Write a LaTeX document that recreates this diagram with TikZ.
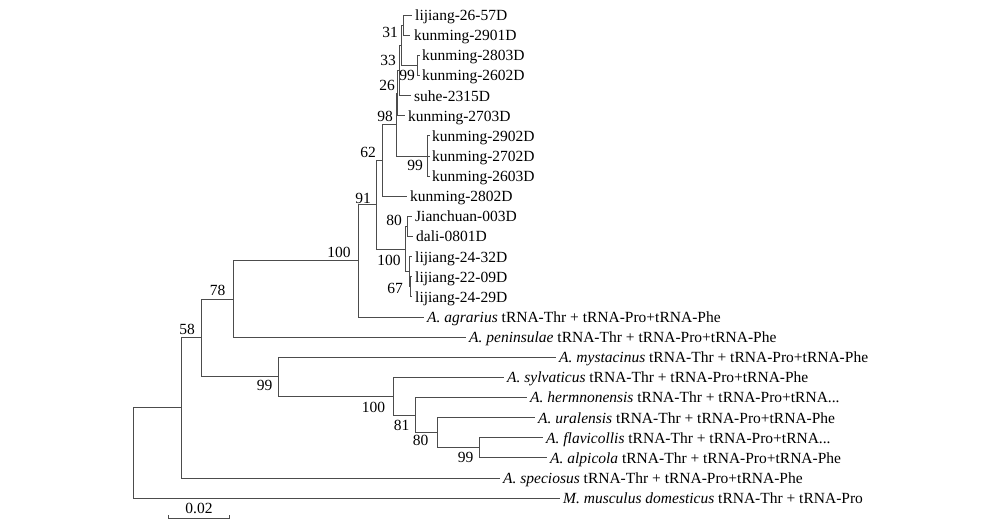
\documentclass[tikz,border=0pt]{standalone}
\usepackage{fontspec}
\setmainfont{Liberation Serif}
\begin{document}
\begin{tikzpicture}[x=1pt,y=-1pt,
  br/.style={draw=black!70, line width=0.8pt},
  tip/.style={anchor=base west, inner sep=0pt, font=\fontsize{15.5}{18}\selectfont},
  bs/.style={anchor=center, inner sep=0pt, font=\fontsize{15.5}{18}\selectfont}]
\useasboundingbox (0,0) rectangle (1004,531);
\fill[white] (0,0) rectangle (1004,531);
% tip line ends
\coordinate (e0) at (412,15);
\coordinate (e1) at (410,35.1);
\coordinate (e2) at (420,55.3);
\coordinate (e3) at (420,75.4);
\coordinate (e4) at (411,95.5);
\coordinate (e5) at (405,115.6);
\coordinate (e6) at (430,135.8);
\coordinate (e7) at (430,155.9);
\coordinate (e8) at (430,176);
\coordinate (e9) at (407,196.1);
\coordinate (e10) at (412,216.3);
\coordinate (e11) at (413,236.4);
\coordinate (e12) at (412,256.5);
\coordinate (e13) at (412,276.6);
\coordinate (e14) at (412,296.8);
\coordinate (e15) at (424,316.9);
\coordinate (e16) at (466,337);
\coordinate (e17) at (556,357.1);
\coordinate (e18) at (504,377.3);
\coordinate (e19) at (527,397.4);
\coordinate (e20) at (535,417.5);
\coordinate (e21) at (543,437.6);
\coordinate (e22) at (547,457.8);
\coordinate (e23) at (500,477.9);
\coordinate (e24) at (560,498);
% internal nodes
\coordinate (n31) at (403,25.05);
\coordinate (n99a) at (417,65.35);
\coordinate (n33) at (401,45.2);
\coordinate (n26) at (399,70.35);
\coordinate (nC) at (397.5,93);
\coordinate (n99b) at (427,155.9);
\coordinate (nA) at (396,124.4);
\coordinate (n62) at (382,160.3);
\coordinate (n80) at (407,226.3);
\coordinate (n67) at (410,286.7);
\coordinate (nD) at (409,271.6);
\coordinate (n100s) at (405.5,249);
\coordinate (n91) at (376,204.6);
\coordinate (n100b) at (358,260.8);
\coordinate (n78) at (233,298.9);
\coordinate (n99d) at (479,447.7);
\coordinate (n80b) at (437,432.6);
\coordinate (n81) at (415,415);
\coordinate (n100c) at (393,396.2);
\coordinate (n99c) at (278,376.6);
\coordinate (nX) at (201,337.8);
\coordinate (nY) at (181,407.8);
\coordinate (root) at (133,452.9);
% branches
\draw[br] (n31) |- (e0); \draw[br] (n31) |- (e1);
\draw[br] (n99a) |- (e2); \draw[br] (n99a) |- (e3);
\draw[br] (n33) |- (n31); \draw[br] (n33) |- (n99a);
\draw[br] (n26) |- (n33); \draw[br] (n26) |- (e4);
\draw[br] (nC) |- (n26); \draw[br] (nC) |- (e5);
\draw[br] (n99b) |- (e6); \draw[br] (n99b) |- (e7); \draw[br] (n99b) |- (e8);
\draw[br] (nA) |- (nC); \draw[br] (nA) |- (n99b);
\draw[br] (n62) |- (nA); \draw[br] (n62) |- (e9);
\draw[br] (n80) |- (e10); \draw[br] (n80) |- (e11);
\draw[br] (n67) |- (e13); \draw[br] (n67) |- (e14);
\draw[br] (nD) |- (e12); \draw[br] (nD) |- (n67);
\draw[br] (n100s) |- (n80); \draw[br] (n100s) |- (nD);
\draw[br] (n91) |- (n62); \draw[br] (n91) |- (n100s);
\draw[br] (n100b) |- (n91); \draw[br] (n100b) |- (e15);
\draw[br] (n78) |- (n100b); \draw[br] (n78) |- (e16);
\draw[br] (n99d) |- (e21); \draw[br] (n99d) |- (e22);
\draw[br] (n80b) |- (e20); \draw[br] (n80b) |- (n99d);
\draw[br] (n81) |- (e19); \draw[br] (n81) |- (n80b);
\draw[br] (n100c) |- (e18); \draw[br] (n100c) |- (n81);
\draw[br] (n99c) |- (e17); \draw[br] (n99c) |- (n100c);
\draw[br] (nX) |- (n78); \draw[br] (nX) |- (n99c);
\draw[br] (nY) |- (nX); \draw[br] (nY) |- (e23);
\draw[br] (root) |- (nY); \draw[br] (root) |- (e24);
% tip labels
\node[tip] (t0) at (415,20.5) {lijiang-26-57D};
\node[tip] (t1) at (414,40.6) {kunming-2901D};
\node[tip] (t2) at (422,60.8) {kunming-2803D};
\node[tip] (t3) at (422,80.9) {kunming-2602D};
\node[tip] (t4) at (414,101) {suhe-2315D};
\node[tip] (t5) at (408,121.1) {kunming-2703D};
\node[tip] (t6) at (432,141.3) {kunming-2902D};
\node[tip] (t7) at (432,161.4) {kunming-2702D};
\node[tip] (t8) at (432,181.5) {kunming-2603D};
\node[tip] (t9) at (410,201.6) {kunming-2802D};
\node[tip] (t10) at (415,221.8) {Jianchuan-003D};
\node[tip] (t11) at (416,241.9) {dali-0801D};
\node[tip] (t12) at (415,262) {lijiang-24-32D};
\node[tip] (t13) at (415,282.1) {lijiang-22-09D};
\node[tip] (t14) at (415,302.3) {lijiang-24-29D};
\node[tip] (t15) at (427,322.4) {\textit{A. agrarius} tRNA-Thr + tRNA-Pro+tRNA-Phe};
\node[tip] (t16) at (469,342.5) {\textit{A. peninsulae} tRNA-Thr + tRNA-Pro+tRNA-Phe};
\node[tip] (t17) at (559,362.6) {\textit{A. mystacinus} tRNA-Thr + tRNA-Pro+tRNA-Phe};
\node[tip] (t18) at (507,382.8) {\textit{A. sylvaticus} tRNA-Thr + tRNA-Pro+tRNA-Phe};
\node[tip] (t19) at (530,402.9) {\textit{A. hermnonensis} tRNA-Thr + tRNA-Pro+tRNA...};
\node[tip] (t20) at (538,423) {\textit{A. uralensis} tRNA-Thr + tRNA-Pro+tRNA-Phe};
\node[tip] (t21) at (546,443.1) {\textit{A. flavicollis} tRNA-Thr + tRNA-Pro+tRNA...};
\node[tip] (t22) at (550,463.3) {\textit{A. alpicola} tRNA-Thr + tRNA-Pro+tRNA-Phe};
\node[tip] (t23) at (503,483.4) {\textit{A. speciosus} tRNA-Thr + tRNA-Pro+tRNA-Phe};
\node[tip] (t24) at (563,503.5) {\textit{M. musculus domesticus} tRNA-Thr + tRNA-Pro};
% bootstrap values
\node[bs] (b31) at (390,32) {31};
\node[bs] (b33) at (388,60) {33};
\node[bs] (b99a) at (407,75) {99};
\node[bs] (b26) at (387,85) {26};
\node[bs] (b98) at (385,116) {98};
\node[bs] (b99b) at (415,165) {99};
\node[bs] (b62) at (368,152) {62};
\node[bs] (b91) at (363,198) {91};
\node[bs] (b80) at (394,220) {80};
\node[bs] (b100s) at (389,260) {100};
\node[bs] (b67) at (395,288) {67};
\node[bs] (b100b) at (339,252) {100};
\node[bs] (b78) at (217.5,290) {78};
\node[bs] (b58) at (187,329) {58};
\node[bs] (b99c) at (264.5,385) {99};
\node[bs] (b100c) at (373.5,407) {100};
\node[bs] (b81) at (401.5,425) {81};
\node[bs] (b80b) at (420.5,440) {80};
\node[bs] (b99d) at (465.5,457) {99};
% scale bar
\coordinate (s1) at (168,518);
\coordinate (s2) at (229,518);
\draw[br] ([yshift=3pt]s1) -- (s1) -- (s2) -- ([yshift=3pt]s2);
\node[bs] (sl) at (199,508) {0.02};
\end{tikzpicture}
\end{document}
